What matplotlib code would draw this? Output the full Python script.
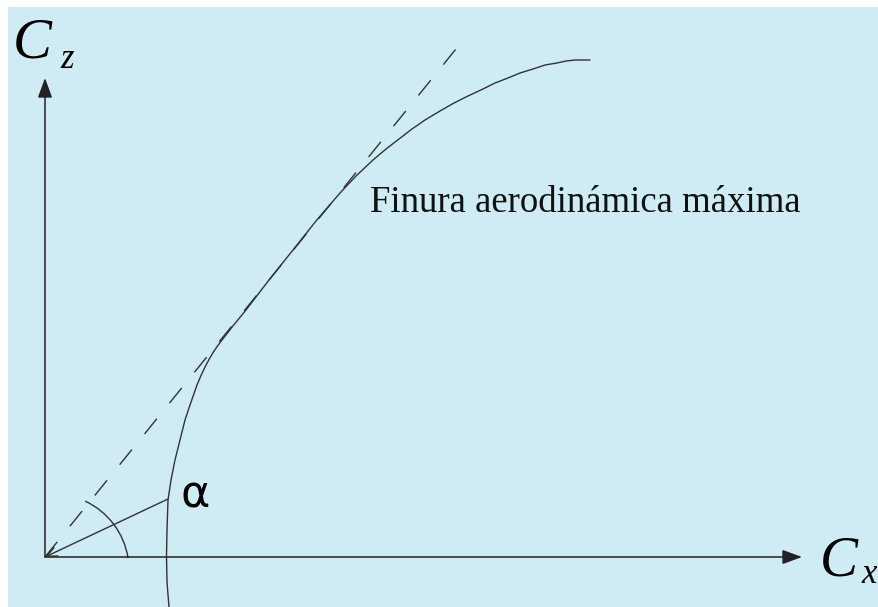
import matplotlib
matplotlib.use("Agg")
import matplotlib.pyplot as plt
from matplotlib.patches import Arc

# Polar curve Cz(Cx) of the wing (diagram units)
curve_cx = [124, 122, 121.5, 122, 123, 126, 130, 135, 140, 145, 148.5, 152,
            155.8, 160, 164.3, 168.4, 172.5, 177, 188.7, 201, 224, 248, 271,
            295, 311, 328, 341, 354, 367, 380, 395, 409, 423, 438, 450, 463,
            475, 488, 500, 512, 521, 530, 537, 545]
curve_cz = [-50, -25, 1, 27, 57, 77, 97, 117, 137, 152, 162, 172,
            181, 190, 198, 205, 211, 217, 232, 247, 277, 307, 336,
            364, 381, 397, 408, 418, 428, 437, 446, 454, 461, 468, 474, 479,
            484, 488, 492, 494, 496, 497, 497, 497]

# Tangent from the origin (maximum lift-to-drag ratio)
tangent_cx = [0, 415]
tangent_cz = [0, 513]

# Ray from the origin to a point of the polar (angle alpha)
ray_cx = [0, 123]
ray_cz = [0, 58]

# Axis extents
x_axis_end = 757
y_axis_end = 479

# Angle arc
arc_center = (8, -13)
arc_radius = 76
arc_theta = (9, 65)

bg = "#cfebf4"
ink = "#333333"

fig = plt.figure(figsize=(8.79, 6.07), dpi=100)
fig.patch.set_facecolor("white")
ax = fig.add_axes([8 / 879, 0, 871 / 879, 600 / 607])
ax.set_facecolor(bg)
ax.set_xlim(-37, 834)
ax.set_ylim(-50, 550)
for s in ax.spines.values():
    s.set_visible(False)
ax.set_xticks([])
ax.set_yticks([])

# Axes with arrowheads
arrow_kw = dict(arrowstyle="-|>,head_length=0.6,head_width=0.22",
                mutation_scale=20, lw=1.1, color="#222222",
                shrinkA=0, shrinkB=0)
ax.annotate("", xy=(0, y_axis_end), xytext=(0, 0), arrowprops=arrow_kw)
ax.annotate("", xy=(x_axis_end, 0), xytext=(0, 0), arrowprops=arrow_kw)

# Polar curve
ax.plot(curve_cx, curve_cz, color=ink, lw=1.0,
        solid_capstyle="round", solid_joinstyle="round")

# Tangent line (dashed)
ax.plot(tangent_cx, tangent_cz, color=ink, lw=1.0,
        linestyle=(0, (14, 14.5)))

# Ray with small open arrowhead at the origin
ax.annotate("", xy=(ray_cx[0], ray_cz[0]), xytext=(ray_cx[1], ray_cz[1]),
            arrowprops=dict(arrowstyle="->,head_length=0.5,head_width=0.22",
                            mutation_scale=15, lw=1.0, color=ink,
                            shrinkA=0, shrinkB=0))

# Angle arc
ax.add_patch(Arc(arc_center, 2 * arc_radius, 2 * arc_radius,
                 theta1=arc_theta[0], theta2=arc_theta[1],
                 color=ink, lw=1.0))

# Labels
serif = ["Liberation Serif", "DejaVu Serif"]
ax.text(-32, 500, "C", fontsize=42, style="italic", family=serif,
        ha="left", va="baseline", color="black")
ax.text(15, 489, "z", fontsize=25, style="italic", family=serif,
        ha="left", va="baseline", color="black")
ax.text(775, -18, "C", fontsize=41, style="italic", family=serif,
        ha="left", va="baseline", color="black")
ax.text(816, -26, "x", fontsize=25, style="italic", family=serif,
        ha="left", va="baseline", color="black")
ax.text(325, 345, "Finura aerodinámica máxima", fontsize=26.5, family=serif,
        ha="left", va="baseline", color="#111111")
ax.text(136, 50, "α", fontsize=32, family="DejaVu Sans",
        ha="left", va="baseline", color="black")

fig.savefig("out.png", dpi=100, facecolor="white")
